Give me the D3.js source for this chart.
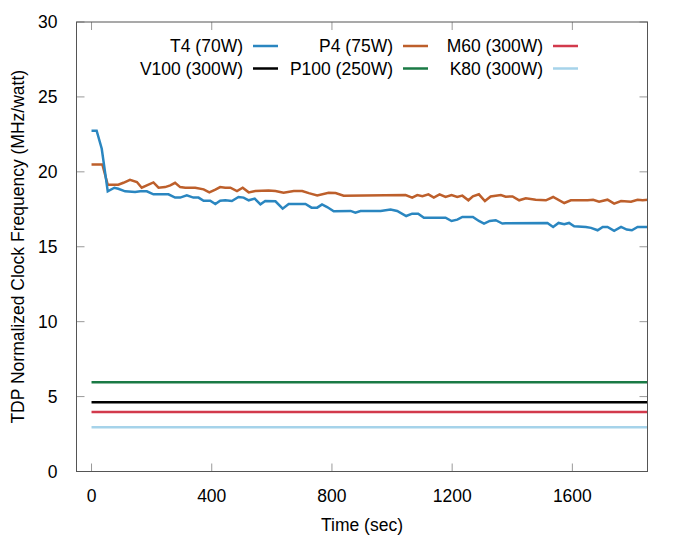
<!DOCTYPE html>
<html>
<head>
<meta charset="utf-8">
<script src="https://cdn.jsdelivr.net/npm/d3@7"></script>
<style>
  body { margin: 0; background: #fff; }
  text { font-family: "Liberation Sans", Arial, sans-serif; fill: #000; font-size: 17.5px; }
</style>
</head>
<body>
<div id="chart"></div>
<script>
// T4 (70W)
const t4Time = [0, 17, 34, 54, 76, 89, 112, 145, 162, 184, 206, 256, 278, 295, 317, 339, 356, 373, 395, 412,
  428, 445, 467, 489, 506, 523, 543, 562, 578, 612, 636, 656, 712, 732, 751, 767, 784, 806, 862, 878,
  895, 962, 995, 1017, 1047, 1067, 1087, 1106, 1178, 1198, 1217, 1234, 1269, 1289, 1306, 1325, 1345, 1367,
  1378, 1517, 1536, 1554, 1573, 1589, 1606, 1645, 1662, 1684, 1701, 1717, 1739, 1762, 1781, 1798, 1817, 1856]
const t4Value = [22.75, 22.75, 21.54, 18.70, 18.94, 18.87, 18.70, 18.65, 18.70, 18.70, 18.50, 18.50, 18.28, 18.28, 18.43, 18.28, 18.28, 18.07, 18.07, 17.85,
  18.07, 18.10, 18.05, 18.32, 18.28, 18.10, 18.21, 17.83, 18.05, 18.03, 17.54, 17.85, 17.85, 17.61, 17.61, 17.83, 17.65, 17.37, 17.39, 17.28,
  17.39, 17.39, 17.48, 17.39, 17.05, 17.21, 17.21, 16.94, 16.94, 16.72, 16.81, 16.99, 16.99, 16.72, 16.55, 16.72, 16.77, 16.55,
  16.57, 16.59, 16.32, 16.59, 16.50, 16.59, 16.37, 16.32, 16.26, 16.10, 16.32, 16.32, 16.06, 16.32, 16.15, 16.10, 16.32, 16.32]

// P4 (75W)
const p4Time = [0, 36, 54, 89, 106, 128, 151, 167, 184, 206, 223, 245, 262, 278, 295, 312, 345, 373, 392, 412,
  428, 445, 462, 484, 503, 523, 545, 589, 612, 639, 673, 701, 723, 751, 789, 812, 839, 1045, 1067, 1084,
  1101, 1121, 1139, 1158, 1178, 1198, 1217, 1234, 1254, 1269, 1289, 1309, 1328, 1362, 1378, 1401, 1423, 1445,
  1478, 1512, 1536, 1573, 1595, 1651, 1669, 1689, 1717, 1739, 1762, 1795, 1817, 1834, 1856]
const p4Value = [20.49, 20.49, 19.14, 19.14, 19.27, 19.47, 19.32, 18.94, 19.10, 19.29, 18.94, 18.98, 19.10, 19.27, 18.98, 18.94, 18.94, 18.83, 18.63, 18.81,
  18.98, 18.94, 18.94, 18.72, 18.94, 18.63, 18.72, 18.76, 18.72, 18.61, 18.72, 18.72, 18.58, 18.43, 18.61, 18.58, 18.41, 18.45, 18.28, 18.45,
  18.38, 18.50, 18.28, 18.50, 18.32, 18.45, 18.32, 18.41, 18.10, 18.36, 18.50, 18.05, 18.36, 18.45, 18.34, 18.36, 18.10, 18.23,
  18.14, 18.10, 18.32, 17.92, 18.10, 18.10, 18.14, 18.01, 18.14, 17.88, 18.05, 18.01, 18.14, 18.10, 18.14]

// flat series
const flatTime = [0, 1856]
const m60Value = [3.97, 3.97]
const v100Value = [4.63, 4.63]
const p100Value = [5.95, 5.95]
const k80Value = [2.95, 2.95]

const seriesNames = ['T4 (70W)', 'P4 (75W)', 'M60 (300W)', 'V100 (300W)', 'P100 (250W)', 'K80 (300W)']
const seriesColors = ['#2a86c0', '#bd5f2b', '#d23a4c', '#000000', '#1a7a45', '#a6d3ea']

const xTicks = [0, 400, 800, 1200, 1600]
const yTicks = [0, 5, 10, 15, 20, 25, 30]

const series = [
  { name: seriesNames[3], color: seriesColors[3], time: flatTime, value: v100Value },
  { name: seriesNames[4], color: seriesColors[4], time: flatTime, value: p100Value },
  { name: seriesNames[2], color: seriesColors[2], time: flatTime, value: m60Value },
  { name: seriesNames[5], color: seriesColors[5], time: flatTime, value: k80Value },
  { name: seriesNames[1], color: seriesColors[1], time: p4Time, value: p4Value },
  { name: seriesNames[0], color: seriesColors[0], time: t4Time, value: t4Value }
]

const W = 676, H = 540
const margin = { top: 22, right: 28.5, bottom: 68.5, left: 76.5 }
const width = W - margin.left - margin.right
const height = H - margin.top - margin.bottom

const svg = d3.select('#chart').append('svg')
  .attr('width', W)
  .attr('height', H)

const g = svg.append('g')
  .attr('transform', 'translate(' + margin.left + ',' + margin.top + ')')

const x = d3.scaleLinear().domain([-50, 1850]).range([0, width])
const y = d3.scaleLinear().domain([0, 30]).range([height, 0])

svg.append('defs').append('clipPath').attr('id', 'clip')
  .append('rect').attr('width', width).attr('height', height)

// ticks (inward, mirrored)
const tickLen = 8
const tickColor = '#999'
xTicks.forEach(function(t) {
  g.append('line').attr('x1', x(t)).attr('x2', x(t)).attr('y1', height).attr('y2', height - tickLen)
    .attr('stroke', tickColor)
  g.append('line').attr('x1', x(t)).attr('x2', x(t)).attr('y1', 0).attr('y2', tickLen)
    .attr('stroke', tickColor)
  g.append('text').attr('x', x(t)).attr('y', height + 30)
    .attr('text-anchor', 'middle').text(t)
})
yTicks.forEach(function(v) {
  g.append('line').attr('x1', 0).attr('x2', tickLen).attr('y1', y(v)).attr('y2', y(v))
    .attr('stroke', tickColor)
  g.append('line').attr('x1', width).attr('x2', width - tickLen).attr('y1', y(v)).attr('y2', y(v))
    .attr('stroke', tickColor)
  g.append('text').attr('x', -19).attr('y', y(v)).attr('dy', '0.35em')
    .attr('text-anchor', 'end').text(v)
})

// lines
const line = d3.line()
  .x(function(d) { return x(d[0]) })
  .y(function(d) { return y(d[1]) })

const plot = g.append('g').attr('clip-path', 'url(#clip)')
series.forEach(function(s) {
  plot.append('path')
    .datum(s.time.map(function(t, i) { return [t, s.value[i]] }))
    .attr('fill', 'none')
    .attr('stroke', s.color)
    .attr('stroke-width', 2.5)
    .attr('d', line)
})

// border
g.append('rect').attr('width', width).attr('height', height)
  .attr('fill', 'none').attr('stroke', '#555').attr('stroke-width', 1)

// axis titles
svg.append('text').attr('x', margin.left + width / 2).attr('y', 531)
  .attr('text-anchor', 'middle').text('Time (sec)')
svg.append('text')
  .attr('transform', 'translate(24,' + (margin.top + height / 2) + ') rotate(-90)')
  .attr('text-anchor', 'middle')
  .text('TDP Normalized Clock Frequency (MHz/watt)')

// legend: 3 columns, 2 rows
const legend = svg.append('g')
seriesNames.forEach(function(name, k) {
  const col = k % 3, row = Math.floor(k / 3)
  const lx = 243 + col * 150
  const ly = 46 + row * 22.5
  legend.append('text').attr('x', lx).attr('y', ly).attr('dy', '0.35em')
    .attr('text-anchor', 'end').text(name)
  legend.append('line').attr('x1', lx + 10).attr('x2', lx + 35).attr('y1', ly).attr('y2', ly)
    .attr('stroke', seriesColors[k]).attr('stroke-width', 2.5)
})
</script>
</body>
</html>
